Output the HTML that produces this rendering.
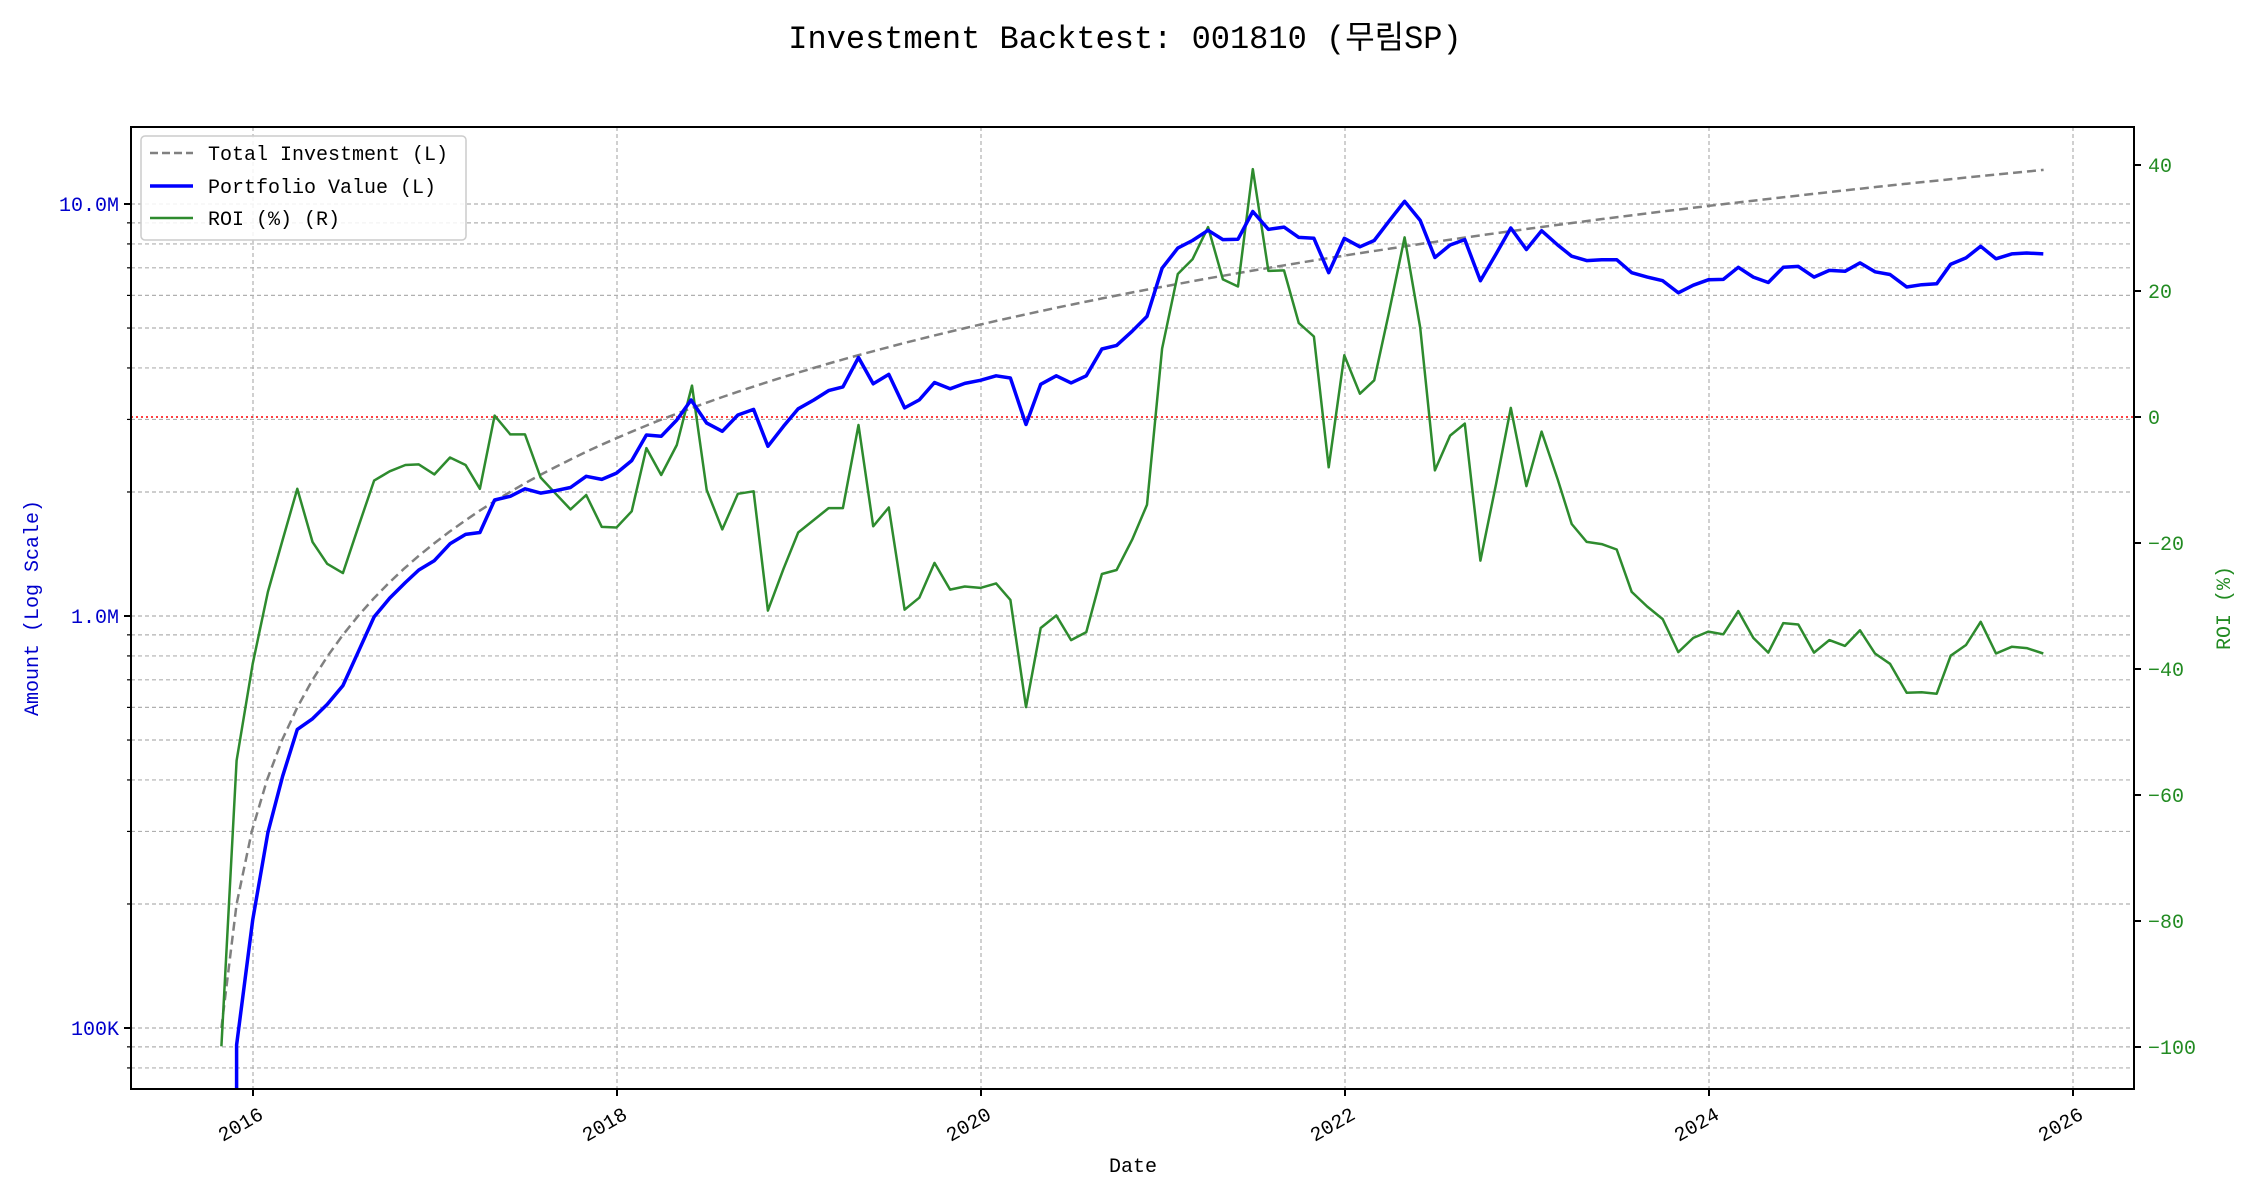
<!DOCTYPE html>
<html><head><meta charset="utf-8">
<style>
html,body{margin:0;padding:0;background:#fff;}
svg{display:block;}
text{font-family:"Liberation Mono","Noto Sans CJK KR",monospace;}
</style></head>
<body>
<svg id="c" xmlns="http://www.w3.org/2000/svg" width="2250" height="1200" viewBox="0 0 2250 1200">
<rect width="2250" height="1200" fill="#fff"/>
<text x="1125" y="48" font-size="32" text-anchor="middle" fill="#000">Investment Backtest: 001810 (무림SP)</text>
<defs><clipPath id="pc"><rect x="131" y="127" width="2003" height="962"/></clipPath></defs>
<g id="grid"></g>
<g id="series" clip-path="url(#pc)"></g>
<rect x="131" y="127" width="2003" height="962" fill="none" stroke="#000" stroke-width="2"/>
<g id="ticks"></g>
<g>
<rect x="141" y="136" width="325" height="104" rx="4" fill="#fff" fill-opacity="0.85" stroke="#ccc" stroke-width="1.5"/>
<line x1="150" y1="153" x2="193" y2="153" stroke="#808080" stroke-width="2.5" stroke-dasharray="8,4"/>
<text x="208" y="160" font-size="20">Total Investment (L)</text>
<line x1="150" y1="186" x2="193" y2="186" stroke="#0000ff" stroke-width="3.5"/>
<text x="208" y="193" font-size="20">Portfolio Value (L)</text>
<line x1="150" y1="218" x2="193" y2="218" stroke="#2e8b2e" stroke-width="2.5"/>
<text x="208" y="225" font-size="20">ROI (%) (R)</text>
</g>
<text transform="translate(38,608) rotate(-90)" font-size="20" text-anchor="middle" fill="#0000cc">Amount (Log Scale)</text>
<text transform="translate(2230,608) rotate(-90)" font-size="20" text-anchor="middle" fill="#228b22">ROI (%)</text>
<text x="1133" y="1172" font-size="20" text-anchor="middle" fill="#000">Date</text>
</svg>
<script>
(function(){
var NS="http://www.w3.org/2000/svg";
function el(p,t,a,txt){var e=document.createElementNS(NS,t);for(var k in a)e.setAttribute(k,a[k]);if(txt!==undefined)e.textContent=txt;p.appendChild(e);return e;}
var grid=document.getElementById('grid'),ser=document.getElementById('series'),tk=document.getElementById('ticks');
var L=131,R=2134,T=127,B=1089;
function ly(v){return 204+412*(7-Math.log10(v));}
var decs=[1e4,1e5,1e6,1e7];
decs.forEach(function(d){for(var k=1;k<=9;k++){var y=ly(d*k);if(y<T||y>B)continue;
 el(grid,'line',{x1:L,x2:R,y1:y,y2:y,stroke:'#b0b0b0','stroke-width':1.2,'stroke-dasharray':'4,3'});
 el(tk,'line',{x1:L-(k==1?7:4),x2:L,y1:y,y2:y,stroke:'#000','stroke-width':k==1?2:1.2});
}});
[[1e7,'10.0M'],[1e6,'1.0M'],[1e5,'100K']].forEach(function(a){el(tk,'text',{x:L-12,y:ly(a[0])+7,'font-size':20,'text-anchor':'end',fill:'#0000cc'},a[1]);});
for(var yr=2016;yr<=2026;yr+=2){var x=253+182*(yr-2016);
 el(grid,'line',{x1:x,x2:x,y1:T,y2:B,stroke:'#b0b0b0','stroke-width':1.2,'stroke-dasharray':'4,3'});
 el(tk,'line',{x1:x,x2:x,y1:B,y2:B+7,stroke:'#000','stroke-width':2});
 el(tk,'text',{transform:'translate('+(x+4)+','+(B+16)+') rotate(-30)','font-size':20,'text-anchor':'end',fill:'#000',dy:'0.75em'},String(yr));
}
for(var r=-100;r<=40;r+=20){var y=417-6.3*r;
 el(tk,'line',{x1:R,x2:R+7,y1:y,y2:y,stroke:'#000','stroke-width':2});
 el(tk,'text',{x:R+14,y:y+7,'font-size':20,fill:'#228b22'},String(r).replace('-','\u2212'));
}
el(ser,'line',{x1:L,x2:R,y1:417,y2:417,stroke:'#ff0000','stroke-width':1.6,'stroke-dasharray':'2,3'});
var gp=[];for(var i=0;i<121;i++){gp.push((221.4+i*15.185).toFixed(1)+','+ly(1e5*(i+1)).toFixed(1));}
el(ser,'polyline',{points:gp.join(' '),fill:'none',stroke:'#808080','stroke-width':2.5,'stroke-dasharray':'9,5'});
function z6(p){return [200+p[0]/2.24,120+p[1]/1.6];}
function z7(p){return [880+p[0]/2.24,120+p[1]/2.24];}
function z8(p){return [1560+p[0]/3,120+p[1]/2.24];}
var b6=[[82,1480],[118,1280],[152,1140],[185,1050],[218,975],[252,958],[285,935],[320,905],[355,850],[390,795],[425,765],[460,740],[490,720],[525,705],[560,678],[595,663],[627,660],[660,608],[695,602],[728,590],[763,597],[797,593],[830,588],[865,570],[900,575],[933,565],[967,545],[1000,504],[1033,506],[1068,480],[1100,448],[1135,485],[1170,498],[1205,472],[1240,463],[1272,522],[1307,490],[1340,462],[1375,448],[1408,433],[1440,427],[1475,380],[1508,422],[1543,407]];
var b7=[[55,645],[88,627],[122,588],[157,602],[190,590],[225,583],[260,573],[292,578],[327,682],[360,592],[395,573],[428,589],[462,573],[497,513],[530,505],[565,473],[598,440],[632,332],[667,287],[700,270],[735,247],[768,268],[802,267],[835,205],[870,245],[905,240],[938,263],[972,265],[1005,342],[1040,265],[1075,284],[1107,270],[1140,227],[1175,182],[1210,225],[1243,308],[1277,280],[1310,268],[1345,360],[1380,300],[1413,242],[1448,290],[1482,248],[1518,280]];
var b8=[[35,305],[80,315],[125,313],[170,313],[215,342],[262,352],[308,360],[355,387],[400,370],[445,358],[490,357],[535,330],[580,352],[625,364],[670,330],[715,328],[762,352],[808,337],[855,339],[900,320],[945,340],[990,346],[1040,374],[1085,369],[1130,367],[1172,323],[1218,309],[1262,283],[1308,311],[1355,300],[1400,298],[1450,300]];
var g6=[[48,1482],[82,1025],[118,870],[152,755],[185,672],[218,590],[252,675],[285,710],[320,725],[355,650],[390,577],[425,562],[460,552],[490,551],[525,567],[560,540],[595,552],[627,590],[660,473],[695,503],[728,503],[763,572],[797,598],[830,623],[865,600],[900,651],[933,652],[967,626],[1000,525],[1033,568],[1068,520],[1102,425],[1135,592],[1170,655],[1205,598],[1240,594],[1272,785],[1307,718],[1340,660],[1375,640],[1408,621],[1440,621],[1475,488],[1508,650],[1543,620]];
var g7=[[55,1097],[88,1070],[122,992],[157,1052],[190,1045],[225,1048],[260,1038],[292,1075],[327,1315],[360,1138],[395,1110],[428,1165],[462,1147],[497,1017],[530,1008],[565,940],[598,862],[632,512],[667,345],[700,312],[735,240],[768,357],[802,373],[835,110],[870,338],[905,337],[938,455],[972,485],[1005,778],[1040,527],[1075,613],[1107,583],[1140,432],[1175,263],[1210,465],[1243,785],[1277,707],[1310,680],[1345,987],[1380,815],[1413,645],[1448,820],[1482,698],[1518,805]];
var g8=[[35,905],[80,945],[125,950],[170,962],[215,1057],[262,1090],[308,1118],[355,1192],[400,1160],[445,1146],[490,1152],[535,1100],[580,1160],[625,1193],[670,1127],[715,1130],[762,1193],[808,1165],[855,1178],[900,1143],[945,1195],[990,1218],[1040,1283],[1085,1282],[1130,1285],[1172,1200],[1218,1176],[1262,1124],[1308,1195],[1355,1180],[1400,1183],[1450,1195]];
function pts(a,b,c){var o=[];a.forEach(function(p){o.push(z6(p));});b.forEach(function(p){o.push(z7(p));});c.forEach(function(p){o.push(z8(p));});return o;}
var bp=[[236.6,1110]].concat(pts(b6,b7,b8));
var gpp=pts(g6,g7,g8);
function s(a){return a.map(function(p){return p[0].toFixed(1)+','+p[1].toFixed(1);}).join(' ');}
el(ser,'polyline',{points:s(gpp),fill:'none',stroke:'#2e8b2e','stroke-width':2.5,'stroke-linejoin':'round'});
el(ser,'polyline',{points:s(bp),fill:'none',stroke:'#0000ff','stroke-width':3.5,'stroke-linejoin':'round'});
})();
</script>
</body></html>
